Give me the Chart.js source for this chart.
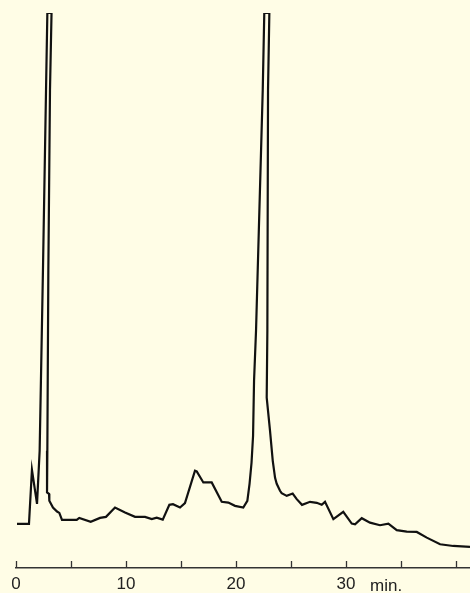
<!DOCTYPE html>
<html>
<head>
<meta charset="utf-8">
<script src="https://cdn.jsdelivr.net/npm/chart.js@4/dist/chart.umd.min.js"></script>
<style>
    html, body { margin: 0; padding: 0; background: #fffde6; }
    #wrap { width: 470px; height: 593px; position: relative; }
</style>
</head>
<body>
<div id="wrap"><canvas id="chromatogram"></canvas></div>
<script>
// retention time (min) and detector signal (relative, 100 = top of plot)
const times = [
    0.09, 1.18, 1.45, 1.91, 2.15, 2.45, 2.73, 2.85, 3.23, 3.09, 2.94, 2.85, 2.82,
    3.00, 3.03, 3.36, 3.73, 3.94, 4.18, 5.52, 5.75, 6.79, 7.64, 8.18, 9.00, 9.91,
    10.82, 11.73, 12.34, 12.79, 13.34, 13.94, 14.27, 14.91, 15.36, 16.27, 16.43,
    17.03, 17.79, 18.70, 19.30, 19.91, 20.66, 21.03, 21.23, 21.41, 21.55, 21.64,
    21.82, 22.43, 22.57, 23.03, 22.91, 22.85, 22.79, 23.09, 23.34, 23.55, 23.70,
    24.00, 24.15, 24.61, 25.15, 25.52, 26.00, 26.73, 27.34, 27.79, 28.09, 28.85,
    29.75, 30.52, 30.82, 31.43, 32.18, 33.09, 33.85, 34.61, 35.52, 36.43, 37.34,
    38.55, 39.75, 41.27
];
const signal = [
    7.95, 7.95, 17.70, 11.56, 21.13, 53.64, 86.15, 100, 100, 86.15, 53.64, 21.13, 13.60,
    13.37, 12.10, 10.89, 10.17, 9.93, 8.67, 8.67, 9.03, 8.31, 9.03, 9.21, 10.89, 9.99,
    9.21, 9.21, 8.80, 9.08, 8.72, 11.38, 11.50, 10.89, 11.68, 17.52, 17.39,
    15.41, 15.41, 11.92, 11.79, 11.20, 10.89, 12.10, 15.17, 18.96, 23.84, 33.77,
    42.80, 86.15, 100, 100, 86.15, 42.80, 30.70, 24.74, 19.32, 16.25, 15.17,
    13.91, 13.49, 13.00, 13.42, 12.41, 11.38, 11.92, 11.74, 11.38, 11.92, 8.80,
    10.11, 8.00, 7.89, 8.98, 8.18, 7.71, 8.00, 6.81, 6.56, 6.50, 5.47,
    4.28, 3.97, 3.79
];
const tickMinutes = [0, 5, 10, 15, 20, 25, 30, 35, 40];
const labeledMinutes = [0, 10, 20, 30];
const unitLabel = 'min.';

const points = times.map((t, i) => ({ x: t, y: signal[i] }));

// short tick marks pointing up from the axis, plus the unit label
const axisDecor = {
    id: 'axisDecor',
    afterDraw(chart) {
        const ctx = chart.ctx;
        const x = chart.scales.x;
        const bottom = chart.chartArea.bottom;
        ctx.save();
        ctx.strokeStyle = '#333';
        ctx.lineWidth = 1.3;
        tickMinutes.forEach(m => {
            const px = Math.round(x.getPixelForValue(m)) + 0.5;
            ctx.beginPath();
            ctx.moveTo(px, bottom);
            ctx.lineTo(px, bottom - 7);
            ctx.stroke();
        });
        ctx.fillStyle = '#222';
        ctx.font = '17px "Liberation Sans", Arial, sans-serif';
        ctx.textBaseline = 'alphabetic';
        ctx.fillText(unitLabel, x.getPixelForValue(30) + 24, 591);
        ctx.restore();
    }
};

new Chart(document.getElementById('chromatogram'), {
    type: 'line',
    data: {
        datasets: [{
            data: points,
            borderColor: '#111',
            borderWidth: 2.2,
            pointRadius: 0,
            tension: 0,
            fill: false
        }]
    },
    options: {
        responsive: true,
        maintainAspectRatio: false,
        animation: false,
        layout: { padding: { top: 13, left: 16, right: 0, bottom: -8 } },
        plugins: { legend: { display: false }, tooltip: { enabled: false } },
        scales: {
            x: {
                type: 'linear',
                min: 0,
                max: 41.27,
                afterBuildTicks: s => { s.ticks = tickMinutes.map(v => ({ value: v })); },
                grid: { display: false, drawTicks: false, tickLength: 0 },
                border: { display: true, color: '#333', width: 1.5 },
                ticks: {
                    autoSkip: false,
                    maxRotation: 0,
                    padding: 8,
                    color: '#222',
                    font: { family: '"Liberation Sans", Arial, sans-serif', size: 17, lineHeight: 1 },
                    callback: v => labeledMinutes.includes(v) ? String(v) : ''
                }
            },
            y: {
                display: false,
                min: 0,
                max: 100
            }
        }
    },
    plugins: [axisDecor]
});
</script>
</body>
</html>
